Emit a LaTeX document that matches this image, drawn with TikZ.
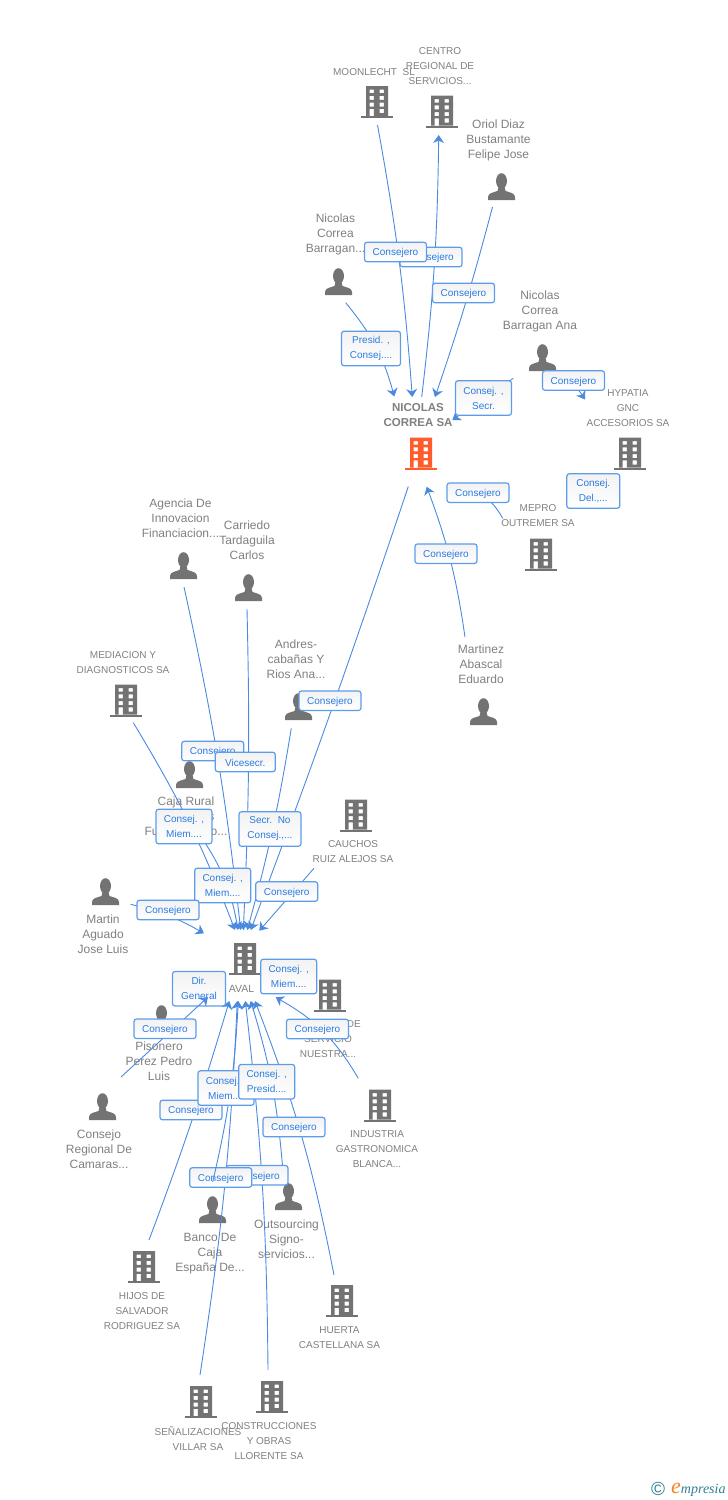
\documentclass[tikz,border=0pt]{standalone}
\usepackage{fontspec}
\setmainfont{Liberation Sans}
\newfontfamily\logofont{Liberation Serif}
\usetikzlibrary{arrows.meta,shadings}
\definecolor{icongrey}{HTML}{737373}
\definecolor{textgrey}{HTML}{808080}
\definecolor{hotorange}{HTML}{FF5B2B}
\definecolor{linkblue}{HTML}{4A8AE0}
\definecolor{edgeblue}{HTML}{5C9CEA}
\definecolor{inkblue}{HTML}{2B7BE2}
\definecolor{logoteal}{HTML}{2F7F96}
\definecolor{logoorange}{HTML}{F58220}
\tikzset{
  link/.style={draw=linkblue,line width=.9pt},
  tip/.style={link,-{Stealth[length=8pt,width=11pt,inset=2.5pt]}},
  firm/.style={text=textgrey,align=center,inner sep=0pt,font=\fontsize{10}{15}\selectfont},
  who/.style={text=textgrey,align=center,inner sep=0pt,font=\fontsize{12}{15}\selectfont},
  role/.style={draw=edgeblue,line width=1.2pt,rounded corners=2.5pt,top color=black!5,bottom color=white,
    text=inkblue,align=center,inner sep=0pt,minimum width=62pt,minimum height=19.5pt,
    font=\fontsize{10}{15}\selectfont,execute at begin node=\rule{0pt}{9.5pt}},
  roletwo/.style={role,minimum width=56pt,minimum height=34.5pt},
  building/.pic={
    \fill[even odd rule] (-11,-32) rectangle (11,-2)
      (-7.5,-28.5) rectangle (-3.2,-24.9) (2.5,-28.5) rectangle (6.8,-24.9)
      (-7.5,-22.1) rectangle (-3.2,-18.2) (2.5,-22.1) rectangle (6.8,-18.2)
      (-7.5,-15.5) rectangle (-3.2,-11.5) (2.5,-15.5) rectangle (6.8,-11.5)
      (-7.5,-9.1) rectangle (-3.2,-2) (2.5,-9.1) rectangle (6.8,-4.9);
    \fill (-16,-2) rectangle (16,0);
  },
  person/.pic={
    \fill (0,-19) ellipse (5.5 and 7.8);
    \fill (-13.5,0) -- (-13.5,-3) .. controls (-13.5,-7) and (-8,-7.5) .. (-4,-9) -- (-3,-13)
      -- (3,-13) -- (4,-9) .. controls (8,-7.5) and (13.5,-7) .. (13.5,-3) -- (13.5,0) -- cycle;
  }
}
\begin{document}
\begin{tikzpicture}[x=1pt,y=-1pt]
  \useasboundingbox (0,0) rectangle (728,1500);
  % buildings
  \pic[color=icongrey] (bMoon) at (377,118) {building};
  \pic[color=icongrey] (bCentro) at (442,127.5) {building};
  \pic[color=hotorange] (bNicolas) at (421,469.5) {building};
  \pic[color=icongrey] (bHypatia) at (630,469.5) {building};
  \pic[color=icongrey] (bMepro) at (541,570.5) {building};
  \pic[color=icongrey] (bMediacion) at (126,716.5) {building};
  \pic[color=icongrey] (bCauchos) at (356,831.5) {building};
  \pic[color=icongrey] (bAval) at (245,975) {building};
  \pic[color=icongrey] (bServicio) at (330,1011.5) {building};
  \pic[color=icongrey] (bIndustria) at (380,1121.5) {building};
  \pic[color=icongrey] (bHijos) at (144,1283) {building};
  \pic[color=icongrey] (bHuerta) at (342,1317) {building};
  \pic[color=icongrey] (bSenal) at (201,1418) {building};
  \pic[color=icongrey] (bConstr) at (272,1413) {building};
  % people
  \pic[color=icongrey] (pOriol) at (501.5,200) {person};
  \pic[color=icongrey] (pBarragan) at (338.5,295) {person};
  \pic[color=icongrey] (pAna) at (542.5,371) {person};
  \pic[color=icongrey] (pMartinez) at (483.5,725) {person};
  \pic[color=icongrey] (pAgencia) at (183.5,579) {person};
  \pic[color=icongrey] (pCarriedo) at (248.5,601) {person};
  \pic[color=icongrey] (pAndres) at (298.5,720) {person};
  \pic[color=icongrey] (pCaja) at (189.5,788) {person};
  \pic[color=icongrey] (pAguado) at (105.5,905) {person};
  \pic[color=icongrey] (pPisonero) at (161.5,1032) {person};
  \pic[color=icongrey] (pCamaras) at (102.5,1120) {person};
  \pic[color=icongrey] (pBanco) at (212.5,1223) {person};
  \pic[color=icongrey] (pSigno) at (288.5,1210) {person};
  % labels
  \node[firm] (lMoon) at (374,72) {MOONLECHT\ \ SL};
  \node[firm] (lCentro) at (440,66) {CENTRO\\REGIONAL DE\\SERVICIOS...};
  \node[who] (lOriol) at (498.5,140) {Oriol Diaz\\Bustamante\\Felipe Jose};
  \node[who] (lBarragan) at (335.5,234.5) {Nicolas\\Correa\\Barragan...};
  \node[who] (lAna) at (540,311) {Nicolas\\Correa\\Barragan Ana};
  \node[firm] (lHypatia) at (628,408) {HYPATIA\\GNC\\ACCESORIOS SA};
  \node[who,font=\fontsize{11.5}{15}\selectfont\bfseries] (lNicolas) at (418,415.5) {NICOLAS\\CORREA SA};
  \node[firm] (lMepro) at (538,515.5) {MEPRO\\OUTREMER SA};
  \node[who] (lMartinez) at (481,664) {Martinez\\Abascal\\Eduardo};
  \node[who] (lAgencia) at (180.5,518) {Agencia De\\Innovacion\\Financiacion...};
  \node[who] (lCarriedo) at (247,540) {Carriedo\\Tardaguila\\Carlos};
  \node[firm] (lMediacion) at (123,662.5) {MEDIACION Y\\DIAGNOSTICOS SA};
  \node[who] (lAndres) at (296,659) {Andres-\\cabañas Y\\Rios Ana...};
  \node[who] (lCaja) at (186,817.5) {Caja Rural\\De Burgos\\Fuentepelayo...};
  \node[firm] (lCauchos) at (353,851.5) {CAUCHOS\\RUIZ ALEJOS SA};
  \node[who] (lAguado) at (103,934) {Martin\\Aguado\\Jose Luis};
  \node[firm,font=\fontsize{10.5}{15}\selectfont] (lAval) at (241.5,988.5) {AVAL};
  \node[firm] (lServicio) at (328,1039) {EMPRESA DE\\SERVICIO\\NUESTRA...};
  \node[who] (lPisonero) at (159,1061) {Pisonero\\Perez Pedro\\Luis};
  \node[who] (lCamaras) at (99,1149) {Consejo\\Regional De\\Camaras...};
  \node[firm] (lIndustria) at (377,1149) {INDUSTRIA\\GASTRONOMICA\\BLANCA...};
  \node[who] (lBanco) at (210,1253.5) {Banco De\\Caja\\España De...};
  \node[who] (lSigno) at (286.5,1239) {Outsourcing\\Signo-\\servicios...};
  \node[firm] (lHijos) at (142,1311) {HIJOS DE\\SALVADOR\\RODRIGUEZ SA};
  \node[firm] (lHuerta) at (339.5,1337.5) {HUERTA\\CASTELLANA SA};
  \node[firm] (lSenal) at (198,1438.5) {SEÑALIZACIONES\\VILLAR SA};
  \node[firm] (lConstr) at (269,1441) {CONSTRUCCIONES\\Y OBRAS\\LLORENTE SA};
  % link ends
  \coordinate (cMoon) at (377.5,125);
  \coordinate (cNicA) at (412.3,397);
  \coordinate (cNicB) at (421.7,397);
  \coordinate (cCentro) at (438.7,135);
  \coordinate (cOriol) at (492.5,207);
  \coordinate (cNicC) at (435,397);
  \coordinate (cBarragan) at (345.7,302.7);
  \coordinate (cNicD) at (394.3,396.5);
  \coordinate (cAna) at (513.3,378.3);
  \coordinate (cNicE) at (452.3,420);
  \coordinate (cAnaB) at (548,376);
  \coordinate (cHypatia) at (585,399.5);
  \coordinate (cMepro) at (502.7,518.3);
  \coordinate (cNicF) at (470,490);
  \coordinate (cMartinez) at (465,637);
  \coordinate (cNicG) at (426.7,486.7);
  \coordinate (cNicH) at (408.3,486.5);
  \coordinate (cMediacion) at (133.3,722.7);
  \coordinate (cCaja) at (200,835);
  \coordinate (cAgencia) at (184,587);
  \coordinate (cCarriedo) at (247,609);
  \coordinate (cAndres) at (291.3,728.3);
  \coordinate (cCauchos) at (314,868.3);
  \coordinate (cAguado) at (130.7,904.3);
  \coordinate (aTopA) at (235,930);
  \coordinate (aTopB) at (238,930);
  \coordinate (aTopC) at (240.7,930);
  \coordinate (aTopD) at (243.3,930);
  \coordinate (aTopE) at (247.3,930);
  \coordinate (aTopF) at (250.7,930);
  \coordinate (aTopG) at (259.3,930.7);
  \coordinate (aTopH) at (204,933.3);
  \coordinate (cHijos) at (149,1240);
  \coordinate (cSenal) at (200,1375);
  \coordinate (cBanco) at (212.7,1182);
  \coordinate (cConstr) at (268,1370);
  \coordinate (cSigno) at (282.7,1168);
  \coordinate (cHuerta) at (334,1275);
  \coordinate (cCamaras) at (121,1077);
  \coordinate (cIndustria) at (358.3,1078.3);
  \coordinate (aLowA) at (229.3,1001);
  \coordinate (aLowB) at (237.3,1001);
  \coordinate (aLowC) at (238.3,1001);
  \coordinate (aLowD) at (245.3,1001);
  \coordinate (aLowE) at (250.7,1001);
  \coordinate (aLowF) at (255,1001);
  \coordinate (aLowG) at (208,997);
  \coordinate (aLowH) at (275.7,997.3);
  % links to nicolas correa
  \draw[tip] (cMoon) to[bend left=3] (cNicA);
  \draw[tip] (cNicB) to[bend right=3] (cCentro);
  \draw[tip] (cOriol) to[bend left=2] (cNicC);
  \draw[tip] (cBarragan) to[bend left=12] (cNicD);
  \draw[tip] (cAna) -- (cNicE);
  \draw[tip] (cAnaB) to[bend left=25] (cHypatia);
  \draw[tip] (cMepro) to[bend right=20] (cNicF);
  \draw[tip] (cMartinez) to[bend right=6] (cNicG);
  % links to aval, top
  \draw[tip] (cNicH) to[bend left=1] (aTopF);
  \draw[tip] (cMediacion) to[bend left=5] (aTopA);
  \draw[tip] (cCaja) to[bend left=12] (aTopB);
  \draw[tip] (cAgencia) to[bend left=3] (aTopC);
  \draw[tip] (cCarriedo) to[bend left=2] (aTopD);
  \draw[tip] (cAndres) to[bend left=3] (aTopE);
  \draw[tip] (cCauchos) -- (aTopG);
  \draw[tip] (cAguado) to[bend left=8] (aTopH);
  % links to aval, bottom
  \draw[tip] (cHijos) to[bend right=2] (aLowA);
  \draw[tip] (cSenal) to[bend right=3] (aLowB);
  \draw[tip] (cConstr) to[bend right=3] (aLowD);
  \draw[tip] (cSigno) to[bend right=6] (aLowE);
  \draw[tip] (cHuerta) to[bend right=5] (aLowF);
  \draw[tip] (cIndustria) to[bend right=15] (aLowH);
  % role boxes
  \node[role] (rCentro) at (431,257) {Consejero};
  \node[role] (rMoon) at (395.5,252) {Consejero};
  \node[role] (rOriol) at (463.5,293) {Consejero};
  \node[roletwo,minimum width=59pt] (rBarragan) at (371,348.5) {Presid. ,\\Consej....};
  \node[roletwo] (rAna) at (483.5,398) {Consej. ,\\Secr.};
  \node[role] (rHypatia) at (573.5,380.5) {Consejero};
  \node[roletwo,minimum width=53pt] (rDel) at (593.3,491) {Consej.\\Del.,...};
  \node[role] (rMepro) at (478,492.7) {Consejero};
  \node[role] (rMartinez) at (446,553.7) {Consejero};
  \node[role] (rAndres) at (330,700.7) {Consejero};
  \node[role] (rAgencia) at (212.7,751) {Consejero};
  \node[role,minimum width=60pt] (rCarriedo) at (245.3,762) {Vicesecr.};
  \node[roletwo] (rMediacion) at (184,826.5) {Consej. ,\\Miem....};
  \node[roletwo,minimum width=62pt] (rSecr) at (270,829) {Secr.\ \ No\\Consej.,...};
  \node[roletwo] (rCaja) at (222.7,885.5) {Consej. ,\\Miem....};
  \node[role] (rCauchos) at (286.7,891.5) {Consejero};
  \node[role] (rAguado) at (168,910) {Consejero};
  \node[roletwo,minimum width=53pt] (rDir) at (199,988.7) {Dir.\\General};
  \draw[tip] (cCamaras) -- (aLowG);
  \node[roletwo] (rServicio) at (288.7,976.5) {Consej. ,\\Miem....};
  \node[role] (rPisonero) at (165,1028.8) {Consejero};
  \node[role] (rIndustria) at (317.5,1029) {Consejero};
  \node[role] (rSigno) at (257,1175.3) {Consejero};
  \node[role] (rBanco) at (220.7,1177.5) {Consejero};
  \draw[tip] (cBanco) to[bend right=5] (aLowC);
  \node[role] (rHijos) at (191,1110) {Consejero};
  \node[roletwo] (rSenal) at (226,1088) {Consej. ,\\Miem....};
  \node[roletwo] (rPresid) at (266.7,1081.7) {Consej. ,\\Presid....};
  \node[role] (rHuerta) at (294,1127) {Consejero};
  % logo
  \node[text=logoteal,inner sep=0pt,font=\fontsize{19}{19}\selectfont] (logoC) at (658,1489) {©};
  \node[text=logoteal,inner sep=0pt,anchor=base west,font=\logofont\itshape\fontsize{14}{14}\selectfont] (logoName) at (671,1493) {\textcolor{logoorange}{\fontsize{22}{22}\selectfont e}mpresia};
\end{tikzpicture}
\end{document}
